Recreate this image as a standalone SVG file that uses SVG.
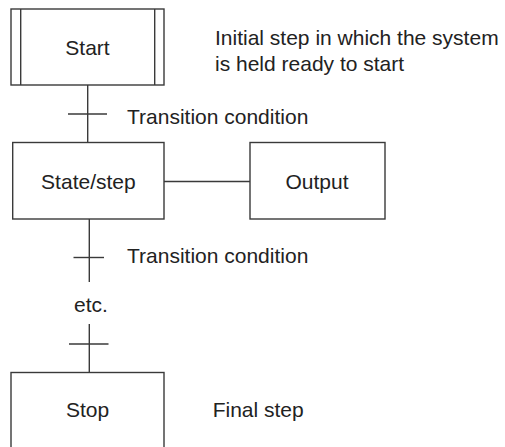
<svg xmlns="http://www.w3.org/2000/svg" width="505" height="447" viewBox="0 0 505 447">
<style>
.box{fill:#fff;stroke:#3a3a3a;stroke-width:1.4}
.ln{fill:none;stroke:#3a3a3a;stroke-width:1.4}
text{font-family:"Liberation Sans",Arial,sans-serif;font-size:21px;fill:#222}
.c{text-anchor:middle}
</style>
<rect width="505" height="447" fill="#fff"/>
<g id="connectors">
<line class="ln" x1="87.7" y1="85" x2="87.7" y2="142.5"/>
<line class="ln" x1="68" y1="114" x2="107" y2="114"/>
<line class="ln" x1="164" y1="181.5" x2="250" y2="181.5"/>
<line class="ln" x1="89.3" y1="219" x2="89.3" y2="282"/>
<line class="ln" x1="73.5" y1="257.5" x2="104" y2="257.5"/>
<line class="ln" x1="89.3" y1="324" x2="89.3" y2="372.5"/>
<line class="ln" x1="69" y1="344" x2="108.5" y2="344"/>
</g>
<g id="start">
<rect class="box" x="11" y="9" width="153" height="76"/>
<line class="ln" x1="20.7" y1="9" x2="20.7" y2="85"/>
<line class="ln" x1="154.7" y1="9" x2="154.7" y2="85"/>
<text class="c" x="87.5" y="54.5">Start</text>
</g>
<g id="state">
<rect class="box" x="12.7" y="142.5" width="151.3" height="76.5"/>
<text class="c" x="88.4" y="189">State/step</text>
</g>
<g id="output">
<rect class="box" x="250" y="142.5" width="135" height="76.5"/>
<text class="c" x="317" y="189">Output</text>
</g>
<g id="stop">
<rect class="box" x="11" y="372.5" width="153" height="90"/>
<text class="c" x="87.5" y="417">Stop</text>
</g>
<g id="labels">
<text x="215" y="45">Initial step in which the system</text>
<text x="215" y="71">is held ready to start</text>
<text x="127" y="124">Transition condition</text>
<text x="127" y="263">Transition condition</text>
<text class="c" x="91" y="311.7">etc.</text>
<text x="212.7" y="417">Final step</text>
</g>
</svg>
